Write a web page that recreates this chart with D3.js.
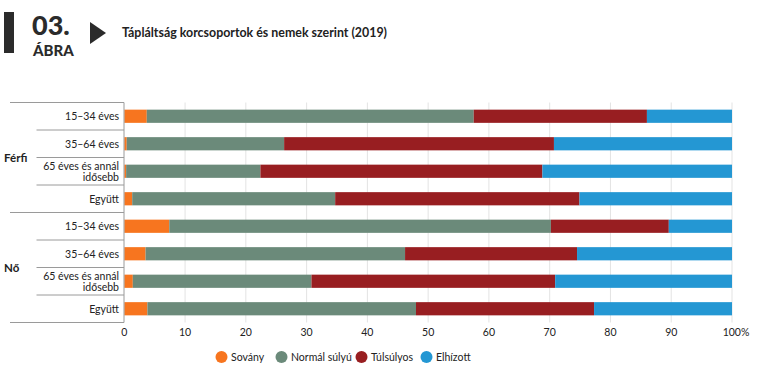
<!DOCTYPE html>
<html>
<head>
<meta charset="utf-8">
<script src="https://cdn.jsdelivr.net/npm/d3@7"></script>
<style>
  body { margin: 0; background: #fff; }
  svg { font-family: Lato, "Open Sans", sans-serif; }
  .tick-label { font-size: 10.5px; fill: #222; }
  .row-label { font-size: 10.5px; fill: #222; }
  .group-label { font-size: 11.5px; font-weight: bold; fill: #222; }
  .legend-label { font-size: 10.5px; fill: #222; }
</style>
</head>
<body>
<div id="chart"></div>
<script>
const width = 761, height = 371;

// data
const groups = ["Férfi", "Nő"];
const ages = ["15–34 éves", "35–64 éves", "65 éves és annál|idősebb", "Együtt"];
const series = ["Sovány", "Normál súlyú", "Túlsúlyos", "Elhízott"];
const colors = ["#f7751f", "#6b8a7a", "#981e21", "#2497d3"];
const sovany  = [3.7, 0.4, 0.3, 1.3, 7.4, 3.5, 1.4, 3.8];
const normal  = [53.8, 25.9, 22.1, 33.4, 62.8, 42.7, 29.4, 44.2];
const tulsuly = [28.5, 44.4, 46.4, 40.2, 19.4, 28.3, 40.1, 29.3];
const elhizott = [14.0, 29.3, 31.2, 25.1, 10.4, 25.5, 29.1, 22.7];
const xTicks = [0, 10, 20, 30, 40, 50, 60, 70, 80, 90, 100];

// build rows
const rows = [];
groups.forEach((g, gi) => {
    ages.forEach((a, ai) => {
        const i = gi * ages.length + ai;
        rows.push({id: g + "-" + a, group: g, age: a,
            "Sovány": sovany[i], "Normál súlyú": normal[i], "Túlsúlyos": tulsuly[i], "Elhízott": elhizott[i]});
    });
});

const stacked = d3.stack().keys(series)(rows);

const svg = d3.select("#chart").append("svg")
    .attr("width", width)
    .attr("height", height);

// header
svg.append("rect").attr("x", 4).attr("y", 12).attr("width", 10).attr("height", 41).attr("fill", "#2b2b2b");
svg.append("text").attr("x", 32).attr("y", 34.5)
    .style("font-size", "27px").style("font-weight", "900").style("fill", "#2b2b2b")
    .text("03.");
svg.append("text").attr("x", 33).attr("y", 55.5)
    .style("font-size", "15px").style("font-weight", "900").style("fill", "#2b2b2b")
    .text("ÁBRA");
svg.append("path").attr("d", "M90,22 L106,33 L90,44 Z").attr("fill", "#2b2b2b");
svg.append("text").attr("x", 122).attr("y", 37)
    .style("font-size", "12.4px").style("font-weight", "bold").style("fill", "#222")
    .text("Tápláltság korcsoportok és nemek szerint (2019)");

// scales
const x = d3.scaleLinear().domain([0, 100]).range([124.3, 732]);
const y = d3.scaleBand().domain(rows.map(d => d.id)).range([102.5, 322.5])
    .paddingInner(0.52).paddingOuter(0.26);
const step = y.step();
const top0 = 102.5;

// gridlines
svg.append("g").selectAll("line")
    .data(xTicks.slice(1))
    .enter().append("line")
    .attr("x1", d => x(d)).attr("x2", d => x(d))
    .attr("y1", top0).attr("y2", top0 + step * rows.length)
    .attr("stroke", "#e3e3e3").attr("stroke-width", 1);

// bars
const barG = svg.append("g");
barG.selectAll("g")
    .data(stacked)
    .enter().append("g")
    .attr("fill", (d, i) => colors[i])
    .selectAll("rect")
    .data(d => d)
    .enter().append("rect")
    .attr("x", d => x(d[0]))
    .attr("width", d => x(d[1]) - x(d[0]))
    .attr("y", d => y(d.data.id))
    .attr("height", y.bandwidth());

// label frame
const frame = svg.append("g").attr("stroke", "#9a9a9a").attr("stroke-width", 1);
rows.forEach((d, i) => {
    const yy = top0 + step * i;
    frame.append("line")
        .attr("x1", i % 4 === 0 ? 10 : 36.5).attr("x2", 124)
        .attr("y1", yy).attr("y2", yy);
});
frame.append("line").attr("x1", 10).attr("x2", 124)
    .attr("y1", top0 + step * rows.length).attr("y2", top0 + step * rows.length);
frame.append("line").attr("x1", 124).attr("x2", 124)
    .attr("y1", top0).attr("y2", top0 + step * rows.length);

// row labels
rows.forEach(d => {
    const cy = y(d.id) + y.bandwidth() / 2;
    const parts = d.age.split("|");
    const t = svg.append("text").attr("class", "row-label")
        .attr("text-anchor", "end").attr("x", 119);
    if (parts.length === 1) {
        t.attr("y", cy + 4).text(parts[0]);
    } else {
        t.append("tspan").attr("x", 119).attr("y", cy - 1.5).text(parts[0]);
        t.append("tspan").attr("x", 119).attr("y", cy + 9.5).text(parts[1]);
    }
});

// group labels
groups.forEach((g, gi) => {
    const cy = top0 + step * (gi * 4 + 2);
    svg.append("text").attr("class", "group-label")
        .attr("x", 4).attr("y", cy + 4).text(g);
});

// x axis labels
svg.append("g").selectAll("text")
    .data(xTicks)
    .enter().append("text")
    .attr("class", "tick-label")
    .attr("text-anchor", "middle")
    .attr("x", d => x(d) + (d === 100 ? 4 : 0))
    .attr("y", 336)
    .text(d => d === 100 ? "100%" : d);

// legend
const legendX = [221.5, 281.5, 361.5, 426.5];
const legend = svg.append("g").selectAll("g")
    .data(series)
    .enter().append("g")
    .attr("transform", (d, i) => "translate(" + legendX[i] + ",357)");
legend.append("circle").attr("r", 6).attr("fill", (d, i) => colors[i]);
legend.append("text").attr("class", "legend-label")
    .attr("x", 9.5).attr("y", 4).text(d => d);
</script>
</body>
</html>
